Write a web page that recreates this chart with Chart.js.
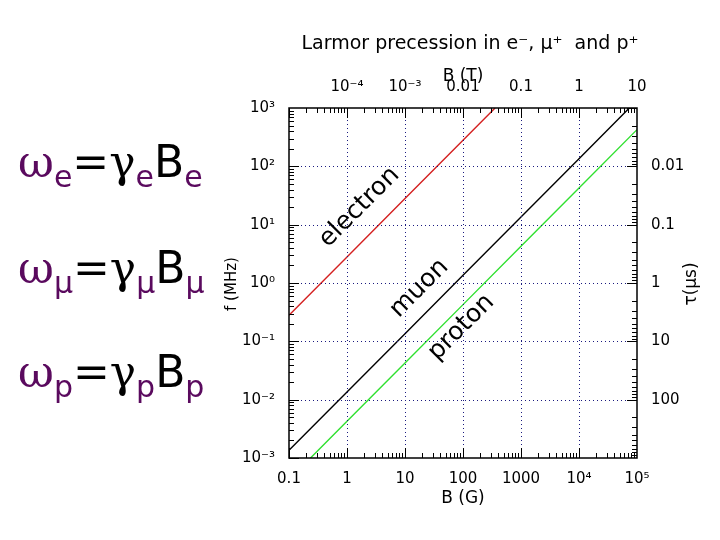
<!DOCTYPE html>
<html>
<head>
<meta charset="utf-8">
<script src="https://cdn.jsdelivr.net/npm/chart.js@4"></script>
<style>
body{margin:0;background:#fff;width:720px;height:540px;overflow:hidden;position:relative;}
#wrap{position:absolute;left:0;top:0;width:720px;height:540px;}
.eq{position:absolute;left:18px;font-family:"DejaVu Serif","Liberation Serif",serif;font-size:44px;color:#000;white-space:nowrap;}
.eq .p{color:#5a0a5e;}
.eq sub{font-family:"DejaVu Sans",sans-serif;font-size:30px;vertical-align:-10px;color:#5a0a5e;}
.eq .b{font-family:"DejaVu Sans",sans-serif;}
</style>
</head>
<body>
<div id="wrap"><canvas id="c" width="720" height="540"></canvas></div>
<div class="eq" style="top:136px"><span class="p">ω</span><sub>e</sub>=γ<sub>e</sub><span class="b">B</span><sub>e</sub></div>
<div class="eq" style="top:242px"><span class="p">ω</span><sub>μ</sub>=γ<sub>μ</sub><span class="b">B</span><sub>μ</sub></div>
<div class="eq" style="top:346px"><span class="p">ω</span><sub>p</sub>=γ<sub>p</sub><span class="b">B</span><sub>p</sub></div>
<script>
// ===============================
// Data (B in gauss, f in MHz)
// ===============================

const electronB = [0.1, 1, 10, 100, 357];
const electronF = [0.28, 2.8, 28, 280, 1000];

const muonB = [0.1, 1, 10, 100, 1000, 10000, 73800];
const muonF = [0.001355, 0.01355, 0.1355, 1.355, 13.55, 135.5, 1000];

const protonB = [0.235, 1, 10, 100, 1000, 10000, 100000];
const protonF = [0.001, 0.004258, 0.04258, 0.4258, 4.258, 42.58, 425.8];

// tick labels by exponent
const bottomLabels = {"-1":"0.1","0":"1","1":"10","2":"100","3":"1000","4":"10⁴","5":"10⁵"};
const leftLabels = {"-3":"10⁻³","-2":"10⁻²","-1":"10⁻¹","0":"10⁰","1":"10¹","2":"10²","3":"10³"};
const topLabels = {"-4":"10⁻⁴","-3":"10⁻³","-2":"0.01","-1":"0.1","0":"1","1":"10"};
const rightLabels = {"-2":"0.01","-1":"0.1","0":"1","1":"10","2":"100"};

function pts(xs, ys){
    return xs.map(function(x, i){ return {x: x, y: ys[i]}; });
}

function expOf(v){
    const e = Math.log10(v);
    return Math.abs(e - Math.round(e)) < 1e-6 ? Math.round(e) : null;
}

function labeler(map){
    return function(v){
        const e = expOf(v);
        if(e === null) return "";
        return map[String(e)] || "";
    };
}

const font = {family: "DejaVu Sans", size: 15};

// ===============================
// Frame, grid, ticks, labels
// ===============================

const decor = {
    id: "decor",
    afterDatasetsDraw(chart){
        const ctx = chart.ctx;
        const a = chart.chartArea;
        const sx = chart.scales.x, sy = chart.scales.y;
        const sx2 = chart.scales.x2, sy2 = chart.scales.y2;
        ctx.save();

        // dotted grid at decades
        ctx.strokeStyle = "#1a1a80";
        ctx.lineWidth = 1;
        ctx.setLineDash([1, 3]);
        for(let e = 0; e <= 4; e++){
            const px = Math.round(sx.getPixelForValue(Math.pow(10, e))) + 0.5;
            ctx.beginPath(); ctx.moveTo(px, a.top); ctx.lineTo(px, a.bottom); ctx.stroke();
        }
        for(let e = -2; e <= 2; e++){
            const py = Math.round(sy.getPixelForValue(Math.pow(10, e))) + 0.5;
            ctx.beginPath(); ctx.moveTo(a.left, py); ctx.lineTo(a.right, py); ctx.stroke();
        }
        ctx.setLineDash([]);

        // inward ticks
        ctx.strokeStyle = "#000";
        function ticksX(scale, lo, hi, y0, dir){
            for(let e = lo; e < hi; e++){
                for(let m = 1; m <= 9; m++){
                    const v = m * Math.pow(10, e);
                    const px = Math.round(scale.getPixelForValue(v)) + 0.5;
                    const len = m === 1 ? 10 : 5;
                    ctx.beginPath(); ctx.moveTo(px, y0); ctx.lineTo(px, y0 + dir * len); ctx.stroke();
                }
            }
        }
        function ticksY(scale, lo, hi, x0, dir){
            for(let e = lo; e < hi; e++){
                for(let m = 1; m <= 9; m++){
                    const v = m * Math.pow(10, e);
                    const py = Math.round(scale.getPixelForValue(v)) + 0.5;
                    const len = m === 1 ? 10 : 5;
                    ctx.beginPath(); ctx.moveTo(x0, py); ctx.lineTo(x0 + dir * len, py); ctx.stroke();
                }
            }
        }
        ticksX(sx, -1, 5, a.bottom, -1);
        ticksX(sx2, -5, 1, a.top, 1);
        ticksY(sy, -3, 3, a.left, 1);
        ticksY(sy2, -3, 3, a.right, -1);

        // frame
        ctx.lineWidth = 1.5;
        ctx.strokeRect(a.left, a.top, a.right - a.left, a.bottom - a.top);

        // titles
        ctx.fillStyle = "#000";
        ctx.textAlign = "center";
        ctx.textBaseline = "alphabetic";
        ctx.font = "19px 'DejaVu Sans'";
        ctx.fillText("Larmor precession in e⁻, μ⁺  and p⁺", 470, 49);
        ctx.font = "17px 'DejaVu Sans'";
        ctx.fillText("B (T)", 463, 81);
        ctx.fillText("B (G)", 463, 503);
        ctx.save();
        ctx.translate(236, 284); ctx.rotate(-Math.PI / 2);
        ctx.font = "15px 'DejaVu Sans'";
        ctx.fillText("f (MHz)", 0, 0);
        ctx.restore();
        ctx.save();
        ctx.translate(696, 284); ctx.rotate(-Math.PI / 2);
        ctx.font = "17px 'DejaVu Sans'";
        ctx.fillText("τ(μs)", 0, 0);
        ctx.restore();

        // curve names along the lines
        ctx.font = "25px 'DejaVu Sans'";
        [["electron", 364, 212], ["muon", 424, 293], ["proton", 466, 332]].forEach(function(t){
            ctx.save();
            ctx.translate(t[1], t[2]); ctx.rotate(-Math.PI / 4);
            ctx.fillText(t[0], 0, 0);
            ctx.restore();
        });
        ctx.restore();
    }
};

function fixed(dim, size){
    return function(s){ s[dim] = size; };
}

new Chart(document.getElementById("c"), {
    type: "scatter",
    data: {
        datasets: [
            {data: pts(electronB, electronF), borderColor: "#d42020"},
            {data: pts(muonB, muonF), borderColor: "#000000"},
            {data: pts(protonB, protonF), borderColor: "#30e030"}
        ].map(function(d){
            return Object.assign(d, {showLine: true, pointRadius: 0, borderWidth: 1.4, xAxisID: "x", yAxisID: "y"});
        })
    },
    options: {
        responsive: false,
        animation: false,
        events: [],
        layout: {padding: 0},
        plugins: {legend: {display: false}, tooltip: {enabled: false}},
        scales: {
            x: {type: "logarithmic", position: "bottom", min: 0.1, max: 100000,
                grid: {display: false}, border: {display: false},
                ticks: {autoSkip: false, maxRotation: 0, color: "#000", font: font, padding: 4, callback: labeler(bottomLabels)},
                afterFit: fixed("height", 82)},
            x2: {type: "logarithmic", position: "top", min: 0.00001, max: 10,
                grid: {display: false}, border: {display: false},
                ticks: {autoSkip: false, maxRotation: 0, color: "#000", font: font, padding: 4, callback: labeler(topLabels)},
                afterFit: fixed("height", 108)},
            y: {type: "logarithmic", position: "left", min: 0.001, max: 1000,
                grid: {display: false}, border: {display: false},
                ticks: {autoSkip: false, color: "#000", font: font, padding: 6, callback: labeler(leftLabels)},
                afterFit: fixed("width", 289)},
            y2: {type: "logarithmic", position: "right", min: 0.001, max: 1000, reverse: true,
                grid: {display: false}, border: {display: false},
                ticks: {autoSkip: false, color: "#000", font: font, padding: 6, callback: labeler(rightLabels)},
                afterFit: fixed("width", 83)}
        }
    },
    plugins: [decor]
});
</script>
</body>
</html>
